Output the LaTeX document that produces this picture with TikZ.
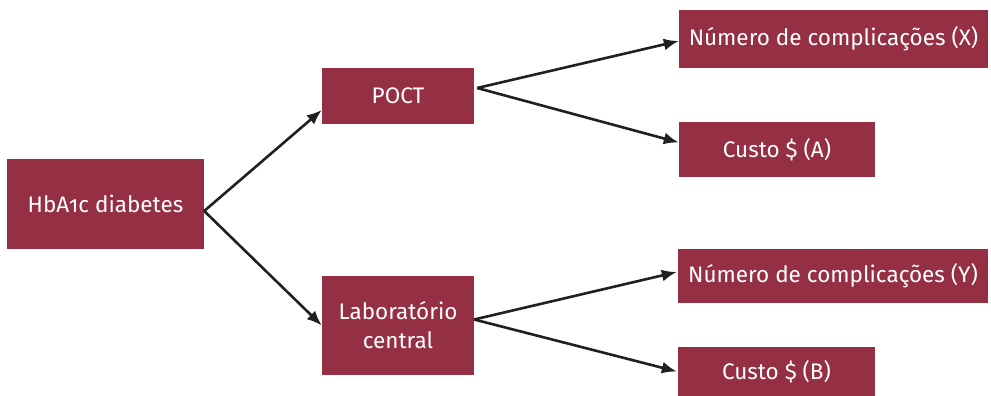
\documentclass[tikz,border=0pt]{standalone}
\usepackage{fontspec}
\setmainfont{Fira Sans}[Numbers=OldStyle]
\usetikzlibrary{arrows.meta,calc}
\definecolor{boxred}{HTML}{952F44}
\definecolor{arrowblack}{HTML}{231F20}
\tikzset{
  box/.style={fill=boxred, draw=none, text=white, inner sep=0pt, align=center,
    font=\fontsize{22.5}{29}\selectfont},
  conn/.style={draw=arrowblack, line width=2.6pt, -{Latex[length=15pt,width=12pt]}}
}
\begin{document}
\begin{tikzpicture}[x=1pt,y=-1pt]
\useasboundingbox (0,0) rectangle (991,396);
\node[box, minimum width=197pt, minimum height=90pt] (hba) at (105.5,204) {HbA1c diabetes};
\node[box, minimum width=152pt, minimum height=56pt] (poct) at (398,96) {POCT};
\node[box, minimum width=152pt, minimum height=99pt] (lab) at (398,325.5) {Laboratório\\central};
\node[box, minimum width=309pt, minimum height=58pt] (numx) at (833.5,39) {Número de complicações (X)};
\node[box, minimum width=196pt, minimum height=55pt] (custoa) at (777,149.5) {Custo \$ (A)};
\node[box, minimum width=310pt, minimum height=54pt] (numy) at (833,276) {Número de complicações (Y)};
\node[box, minimum width=197pt, minimum height=49pt] (custob) at (776.5,371.5) {Custo \$ (B)};
\coordinate (hbaout) at ($(hba.east)+(0,7)$);
\coordinate (poctout) at ($(poct.east)+(3,-8)$);
\coordinate (labout) at ($(lab.east)+(0,-6)$);
\draw[conn] (hbaout) -- ($(poct.west)+(0,14)$);
\draw[conn] (hbaout) -- (lab.west);
\draw[conn] (poctout) -- ($(numx.west)+(0,2)$);
\draw[conn] (poctout) -- ($(custoa.west)+(0,-7)$);
\draw[conn] (labout) -- ($(numy.west)+(-1,-4)$);
\draw[conn] (labout) -- ($(custob.west)+(-1,0)$);
\end{tikzpicture}
\end{document}
